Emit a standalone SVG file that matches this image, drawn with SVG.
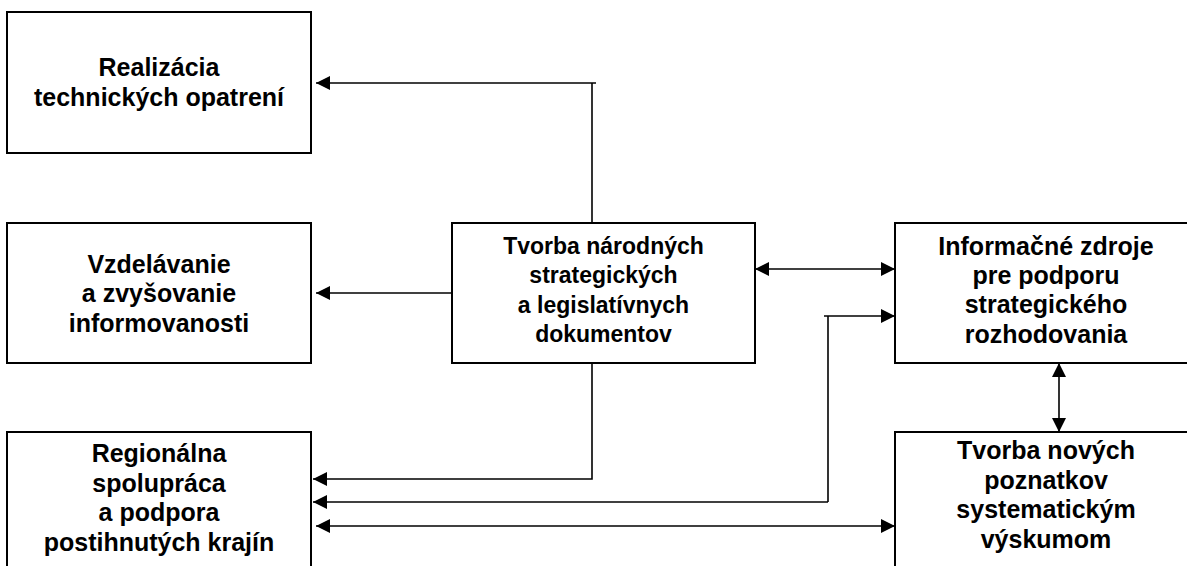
<svg xmlns="http://www.w3.org/2000/svg" width="1187" height="566" viewBox="0 0 1187 566">
<style>
.box{fill:#fff;stroke:#000;stroke-width:2}
.t{font-family:"Liberation Sans",Arial,sans-serif;font-weight:bold;font-size:25px;fill:#000;text-anchor:middle}
.tc{font-size:23px}
.c{fill:none;stroke:#000;stroke-width:1.6}
</style>
<defs>
<marker id="arr" viewBox="0 0 14 14" markerWidth="14" markerHeight="14" refX="14" refY="7" orient="auto-start-reverse" markerUnits="userSpaceOnUse">
<path d="M0,0 L14,7 L0,14 Z" fill="#000"/>
</marker>
</defs>
<rect width="1187" height="566" fill="#fff"/>
<g id="n1">
<rect class="box" x="7" y="12" width="304" height="141"/>
<text class="t" x="159" y="76">Realizácia</text>
<text class="t" x="159" y="106">technických opatrení</text>
</g>
<g id="n2">
<rect class="box" x="7" y="223" width="304" height="140"/>
<text class="t" x="159" y="273">Vzdelávanie</text>
<text class="t" x="159" y="302">a zvyšovanie</text>
<text class="t" x="159" y="332">informovanosti</text>
</g>
<g id="n3">
<rect class="box" x="7" y="432" width="304" height="160"/>
<text class="t" x="159" y="462">Regionálna</text>
<text class="t" x="159" y="492">spolupráca</text>
<text class="t" x="159" y="521">a podpora</text>
<text class="t" x="159" y="551">postihnutých krajín</text>
</g>
<g id="n4">
<rect class="box" x="452" y="223" width="303" height="140"/>
<text class="t tc" x="603.5" y="254">Tvorba národných</text>
<text class="t tc" x="603.5" y="283">strategických</text>
<text class="t tc" x="603.5" y="313">a legislatívnych</text>
<text class="t tc" x="603.5" y="342">dokumentov</text>
</g>
<g id="n5">
<rect class="box" x="895" y="223" width="310" height="140"/>
<text class="t" x="1046" y="255">Informačné zdroje</text>
<text class="t" x="1046" y="284">pre podporu</text>
<text class="t" x="1046" y="313">strategického</text>
<text class="t" x="1046" y="343">rozhodovania</text>
</g>
<g id="n6">
<rect class="box" x="895" y="432" width="310" height="160"/>
<text class="t" x="1046" y="459">Tvorba nových</text>
<text class="t" x="1046" y="489">poznatkov</text>
<text class="t" x="1046" y="518">systematickým</text>
<text class="t" x="1046" y="548">výskumom</text>
</g>
<g id="connectors">
<path class="c" d="M592,223 V83"/>
<path class="c" d="M596,83 H316" marker-end="url(#arr)"/>
<path class="c" d="M452,293 H316" marker-end="url(#arr)"/>
<path class="c" d="M592,363 V479 H313" marker-end="url(#arr)"/>
<path class="c" d="M828,502 H313" marker-end="url(#arr)"/>
<path class="c" d="M828,502 V316"/>
<path class="c" d="M824,316 H895" marker-end="url(#arr)"/>
<path class="c" d="M316,526 H895" marker-start="url(#arr)" marker-end="url(#arr)"/>
<path class="c" d="M755,269 H895" marker-start="url(#arr)" marker-end="url(#arr)"/>
<path class="c" d="M1059,363 V432" marker-start="url(#arr)" marker-end="url(#arr)"/>
</g>
</svg>
